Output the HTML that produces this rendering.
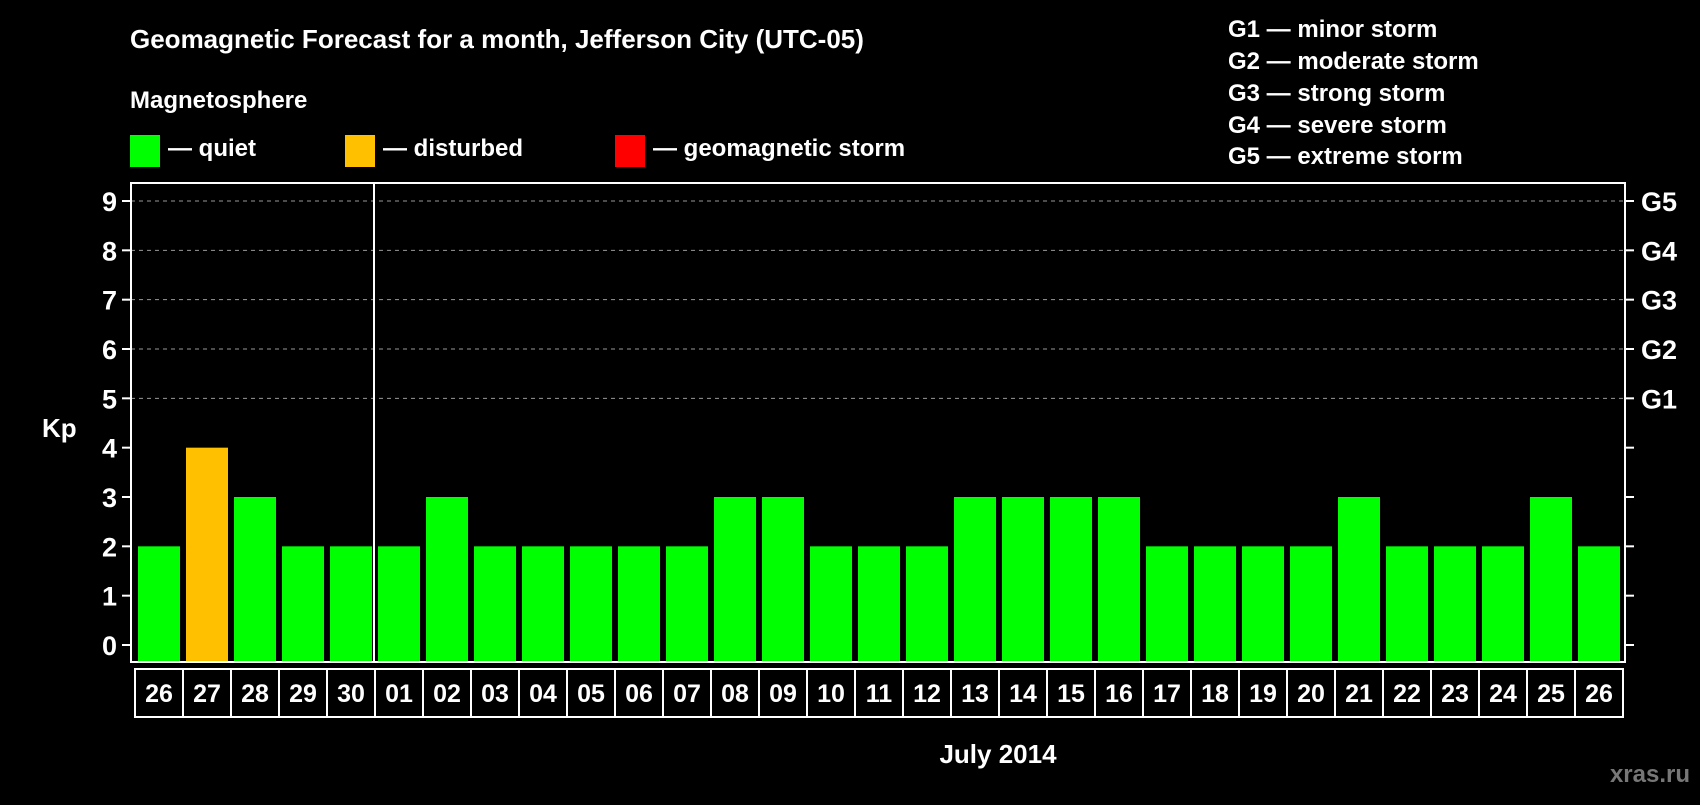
<!DOCTYPE html>
<html><head><meta charset="utf-8"><style>
body{margin:0;background:#000;width:1700px;height:800px;overflow:hidden;font-family:"Liberation Sans",Arial,sans-serif;}
svg text{font-family:"Liberation Sans",Arial,sans-serif;font-weight:bold;fill:#fff;}
</style></head><body>
<svg id="chart" width="1700" height="800" xmlns="http://www.w3.org/2000/svg">
<text x="130" y="48" font-size="26">Geomagnetic Forecast for a month, Jefferson City (UTC-05)</text>
<text x="130" y="108" font-size="24">Magnetosphere</text>
<rect x="130" y="135" width="30" height="32" fill="#00ff00"/>
<text x="168" y="156" font-size="24">— quiet</text>
<rect x="345" y="135" width="30" height="32" fill="#ffc000"/>
<text x="383" y="156" font-size="24">— disturbed</text>
<rect x="615" y="135" width="30" height="32" fill="#ff0000"/>
<text x="653" y="156" font-size="24">— geomagnetic storm</text>
<g font-size="24">
<text x="1228" y="37">G1 — minor storm</text>
<text x="1228" y="69">G2 — moderate storm</text>
<text x="1228" y="101">G3 — strong storm</text>
<text x="1228" y="133">G4 — severe storm</text>
<text x="1228" y="164">G5 — extreme storm</text>
</g>
<text x="42" y="437" font-size="26">Kp</text>
<text x="998" y="763" font-size="26" text-anchor="middle">July 2014</text>
<text x="1690" y="782" font-size="24" text-anchor="end" style="fill:#777">xras.ru</text>
<g id="grid"></g><g id="bars"></g><g id="axes"></g>
</svg>
<script>
const days=["26","27","28","29","30","01","02","03","04","05","06","07","08","09","10","11","12","13","14","15","16","17","18","19","20","21","22","23","24","25","26"];
const kp=[2,4,3,2,2,2,3,2,2,2,2,2,3,3,2,2,2,3,3,3,3,2,2,2,2,3,2,2,2,3,2];
const yTicks=[0,1,2,3,4,5,6,7,8,9];
const gLabels=["","","","","","G1","G2","G3","G4","G5"];
const NS="http://www.w3.org/2000/svg";
const L=131,R=1625,T=183,B=662,X0=138,PITCH=48,BW=42;
const y=v=>645-v*(444/9);
const x=i=>X0+i*PITCH;
function mk(t,a,p){const e=document.createElementNS(NS,t);for(const k in a)e.setAttribute(k,a[k]);p.appendChild(e);return e;}
const grid=document.getElementById('grid'),bars=document.getElementById('bars'),axes=document.getElementById('axes');
yTicks.forEach((v,i)=>{
 if(v>=5){const g=mk('line',{x1:L,x2:R,y1:y(v),y2:y(v),stroke:'#999','stroke-width':1,'stroke-dasharray':'4,4'},grid);
 
 }
 const t1=mk('line',{x1:L-9,x2:L,y1:y(v),y2:y(v),stroke:'#fff','stroke-width':2},axes);
 
 
 const t2=mk('line',{x1:R,x2:R+9,y1:y(v),y2:y(v),stroke:'#fff','stroke-width':2},axes);
 
 
 const lb=mk('text',{x:117,y:y(v)+10,'font-size':27,'text-anchor':'end'},axes);lb.textContent=v;
 
 
 if(gLabels[i]){const gl=mk('text',{x:1641,y:y(v)+10,'font-size':27},axes);gl.textContent=gLabels[i];
 
 }
});
kp.forEach((v,i)=>{
 const c=v>=5?'#ff0000':(v>=4?'#ffc000':'#00ff00');
 const b=mk('rect',{x:x(i),y:y(v),width:BW,height:y(0)+17-y(v)-(0),fill:c},bars);
 b.setAttribute('height',(B-1)-y(v));
 
 
});
const frame=mk('rect',{x:L,y:T,width:R-L,height:B-T,fill:'none',stroke:'#fff','stroke-width':2},axes);


const div=mk('line',{x1:x(5)-4,x2:x(5)-4,y1:T,y2:B,stroke:'#fff','stroke-width':2},axes);


days.forEach((d,i)=>{
 const cx=135+i*PITCH;
 const r=mk('rect',{x:cx,y:669,width:PITCH,height:48,fill:'none',stroke:'#fff','stroke-width':2},axes);
 
 
 const t=mk('text',{x:cx+PITCH/2,y:702,'font-size':25,'text-anchor':'middle'},axes);t.textContent=d;
 
 
});
</script>
</body></html>
